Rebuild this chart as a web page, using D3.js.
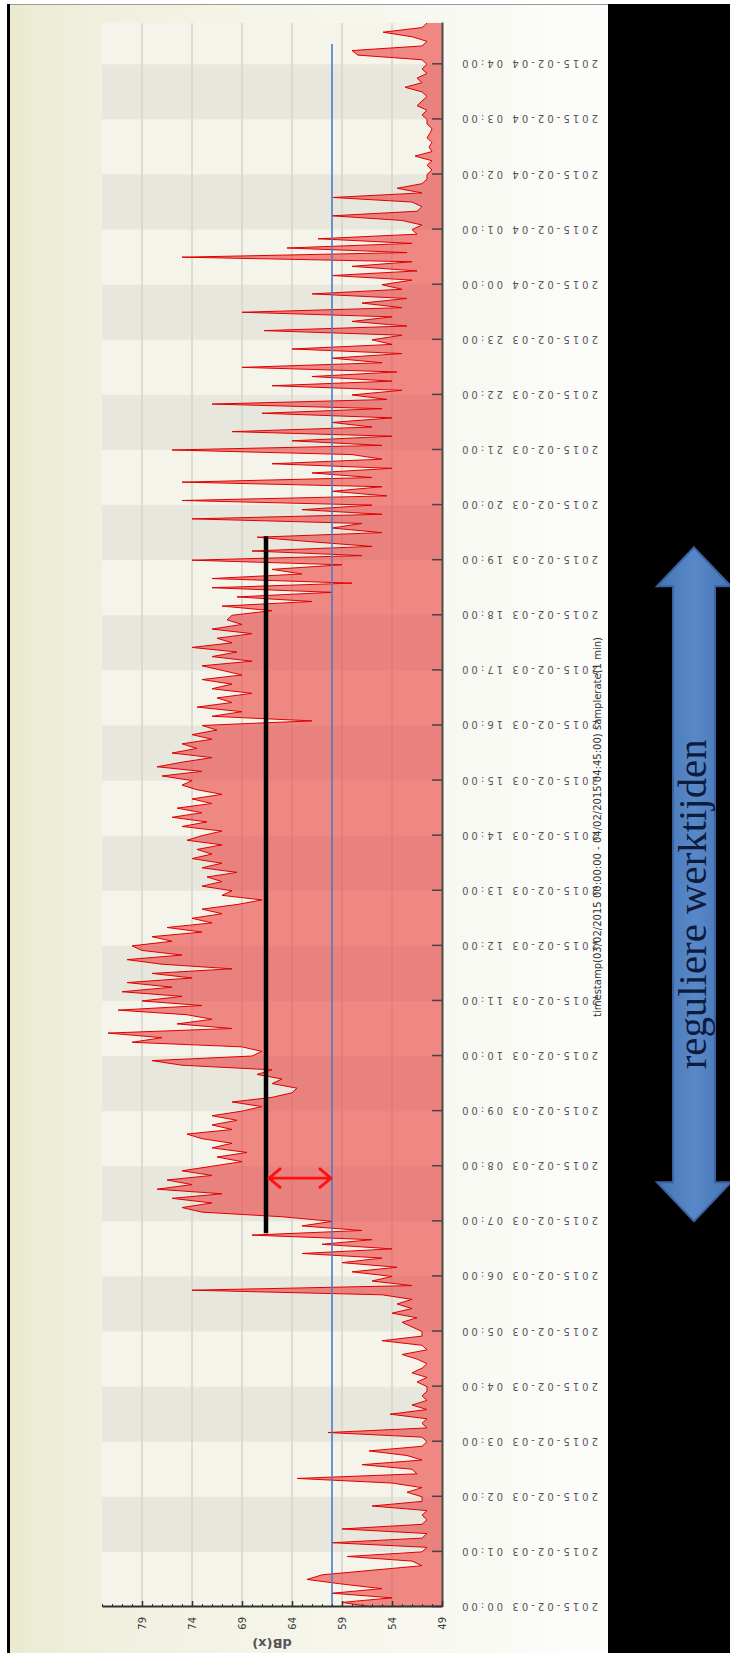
<!DOCTYPE html>
<html>
<head>
<meta charset="utf-8">
<script src="https://cdn.jsdelivr.net/npm/d3@7"></script>
<style>
html, body { margin: 0; padding: 0; background: #fff; }
svg { display: block; }
</style>
</head>
<body>
<div id="chart"></div>
<script>
// sound level dB(x), one value every 5 minutes
var night1 = [
  56, 59, 54, 60, 55, 59, 62.5, 61, 56, 51, 52, 58.5,
  51, 50.5, 60, 51, 50.5, 59, 51, 50.5, 51, 50.5, 56, 51,
  51, 52.5, 51, 54, 63.5, 51.5, 52, 57, 51, 52.5, 56.3, 51,
  50.5, 51, 60.4, 50.5, 51, 50.5, 54.2, 50.5, 52, 50.5, 51, 50.5,
  50.5, 51.5, 50.5, 52, 51, 50.5, 51.5, 53, 50.5, 51, 55, 51,
  51, 52, 53, 51.5, 54, 52, 53.5, 52, 55, 74, 52, 56
];
var morning = [
  54, 58, 53.5, 59, 55, 63, 54, 61, 56, 68, 57, 63,
  60, 65, 73, 75, 72, 76, 71, 77.5, 74, 76.5, 72, 75,
  72, 69, 71.5, 68.5, 72, 70, 73, 74.5, 70, 72, 69.5, 72,
  69, 67, 70, 66, 64, 63.5, 66, 65, 67.5, 66, 75, 78,
  68, 67, 69, 80, 77, 82.4, 70, 75.5, 72, 74.5, 81.4, 73,
  79, 75, 81, 76, 80.5, 74, 78, 70, 77, 80.5, 75, 79
];
var afternoon = [
  80, 76, 78, 73, 76.5, 72, 74, 71, 73, 69.5, 67, 71,
  70, 73, 71, 72.5, 69.5, 73, 71, 74, 72, 73.5, 71, 74.5,
  73, 71, 75, 72.5, 76, 73, 75.5, 72, 74, 71, 73.5, 75,
  74, 77, 73, 77.5, 75, 72, 76, 73.5, 75, 72, 74, 71.5,
  73, 62, 72, 69, 73.5, 70, 71.5, 68, 72, 70, 73, 69,
  71, 73, 68, 72, 69.5, 74, 70, 71.5, 68, 72, 69, 70.5
];
var evening = [
  70, 66, 71, 62, 69.5, 60, 72, 58, 72, 63, 66, 59,
  74, 57, 68, 56, 62, 67.5, 55, 60, 57, 74, 55, 63,
  56, 75, 54.5, 60, 55, 75, 56, 62, 54, 66, 55, 58,
  76, 55, 64, 54, 70, 56, 60, 54, 67, 55, 72, 54.5,
  58, 53, 66, 54, 62, 53.5, 69, 55, 60, 53, 64, 54,
  56, 53, 66.8, 52.5, 58, 54, 69, 53, 57, 52.5, 62, 53
];
var night2 = [
  55, 52, 60, 51.5, 58, 52, 75, 52.5, 64.5, 52, 61.4, 51.5,
  52, 51, 53, 60, 51.5, 51, 52, 59.9, 51, 53.5, 51, 50.5,
  50.5, 50, 50.5, 50, 51.7, 50, 50.3, 50, 50.5, 50.2, 50, 50.5,
  50.5, 51, 50.5, 51.5, 51, 50.5, 51, 52.7, 51, 51.5, 50.5, 51,
  50.5, 51, 57.4, 58, 51, 50.5, 52, 54.9, 51, 50.5
];

var startTime = new Date(2015, 1, 3, 0, 0);
var endTime = new Date(2015, 1, 4, 4, 45);
var stepMinutes = 5;
var dbDomain = [49, 83];
var dbTicks = [49, 54, 59, 64, 69, 74, 79];
var thresholdDb = 60;
var thresholdEnd = new Date(2015, 1, 4, 4, 22);
var workLevelDb = 66.6;
var workLevelSpan = [new Date(2015, 1, 3, 6, 47), new Date(2015, 1, 3, 19, 26)];
var gapArrowTime = new Date(2015, 1, 3, 7, 47);
var workHours = [new Date(2015, 1, 3, 7, 0), new Date(2015, 1, 3, 19, 14)];
var workLabel = "reguliere werktijden";
var yTitle = "dB(x)";
var footer = "timestamp(03/02/2015 00:00:00 - 04/02/2015 04:45:00) samplerate(1 min)";

var width = 730;
var height = 1653;
var rot = 1630; // the chart is drawn lying down and turned a quarter left

var levels = night1.concat(morning, afternoon, evening, night2);
var series = levels.map(function(v, i) {
  return { t: d3.timeMinute.offset(startTime, i * stepMinutes), v: v };
});

var svg = d3.select("#chart").append("svg")
  .attr("width", width)
  .attr("height", height);

var defs = svg.append("defs");
var bg = defs.append("linearGradient").attr("id", "bg")
  .attr("x1", "0%").attr("x2", "100%").attr("y1", "0%").attr("y2", "0%");
bg.append("stop").attr("offset", "0%").attr("stop-color", "#ebead0");
bg.append("stop").attr("offset", "16%").attr("stop-color", "#f1f0df");
bg.append("stop").attr("offset", "70%").attr("stop-color", "#f8f8f1");
bg.append("stop").attr("offset", "100%").attr("stop-color", "#fdfdfb");

var arrowGrad = defs.append("linearGradient").attr("id", "arrowGrad")
  .attr("x1", "0%").attr("x2", "100%").attr("y1", "0%").attr("y2", "0%");
arrowGrad.append("stop").attr("offset", "0%").attr("stop-color", "#4675b4");
arrowGrad.append("stop").attr("offset", "50%").attr("stop-color", "#5888c8");
arrowGrad.append("stop").attr("offset", "100%").attr("stop-color", "#4675b4");

svg.append("rect").attr("x", 8).attr("y", 4).attr("width", 600).attr("height", height - 4)
  .attr("fill", "url(#bg)");
svg.append("rect").attr("x", 608).attr("y", 4).attr("width", width - 608).attr("height", height - 4)
  .attr("fill", "#000");
svg.append("line").attr("x1", 8).attr("x2", 608).attr("y1", 4.5).attr("y2", 4.5)
  .attr("stroke", "#9a9a9a").attr("stroke-width", 1);
svg.append("rect").attr("x", 7).attr("y", 4).attr("width", 3).attr("height", height - 4)
  .attr("fill", "#000");

var g = svg.append("g").attr("transform", "translate(0," + rot + ") rotate(-90)");

var x = d3.scaleTime().domain([startTime, endTime]).range([23, 1607]);
var y = d3.scaleLinear().domain(dbDomain).range([442, 102]);

g.append("rect")
  .attr("x", x.range()[0]).attr("y", y(dbDomain[1]))
  .attr("width", x.range()[1] - x.range()[0])
  .attr("height", y(dbDomain[0]) - y(dbDomain[1]))
  .attr("fill", "#f5f4ea");

var bandHours = d3.timeHour.range(startTime, endTime).filter(function(d, i) {
  return i % 2 === 1;
});
g.selectAll(".band").data(bandHours).enter().append("rect")
  .attr("class", "band")
  .attr("x", function(d) { return x(d); })
  .attr("y", y(dbDomain[1]))
  .attr("width", function(d) { return x(d3.timeHour.offset(d, 1)) - x(d); })
  .attr("height", y(dbDomain[0]) - y(dbDomain[1]))
  .attr("fill", "#e7e7dd");

g.selectAll(".grid").data(dbTicks.slice(1)).enter().append("line")
  .attr("class", "grid")
  .attr("x1", x.range()[0]).attr("x2", x.range()[1])
  .attr("y1", function(d) { return y(d); })
  .attr("y2", function(d) { return y(d); })
  .attr("stroke", "#d5d5cc").attr("stroke-width", 1.5);

var area = d3.area()
  .x(function(d) { return x(d.t); })
  .y0(y(dbDomain[0]))
  .y1(function(d) { return y(d.v); });
var line = d3.line()
  .x(function(d) { return x(d.t); })
  .y(function(d) { return y(d.v); });

g.append("path").datum(series)
  .attr("d", area)
  .attr("fill", "#ea3838").attr("fill-opacity", 0.58);
g.append("path").datum(series)
  .attr("d", line)
  .attr("fill", "none").attr("stroke", "#e00000").attr("stroke-width", 1);

// threshold and working-hours level
g.append("line")
  .attr("x1", x(startTime)).attr("x2", x(thresholdEnd))
  .attr("y1", y(thresholdDb)).attr("y2", y(thresholdDb))
  .attr("stroke", "#4a7cc6").attr("stroke-width", 1.6);

g.append("line")
  .attr("x1", x(workLevelSpan[0])).attr("x2", x(workLevelSpan[1]))
  .attr("y1", y(workLevelDb)).attr("y2", y(workLevelDb))
  .attr("stroke", "#000").attr("stroke-width", 4.5);

var ax = x(gapArrowTime);
var yA = y(workLevelDb) + 3;
var yB = y(thresholdDb) - 1;
g.append("path")
  .attr("d", "M" + ax + "," + yA + "L" + ax + "," + yB +
    "M" + (ax - 10) + "," + (yA + 12) + "L" + ax + "," + yA + "L" + (ax + 10) + "," + (yA + 12) +
    "M" + (ax - 10) + "," + (yB - 12) + "L" + ax + "," + yB + "L" + (ax + 10) + "," + (yB - 12))
  .attr("fill", "none").attr("stroke", "#ff1010").attr("stroke-width", 2.8)
  .attr("stroke-linejoin", "miter");

// axes
var xAxis = d3.axisBottom(x)
  .ticks(d3.timeHour.every(1))
  .tickFormat(d3.timeFormat("%Y-%m-%d %H:%M"))
  .tickSizeInner(-10)
  .tickSizeOuter(0);

var xG = g.append("g").attr("transform", "translate(0," + y(dbDomain[0]) + ")").call(xAxis);
xG.select(".domain").attr("stroke", "#4a4a4a").attr("stroke-width", 2);
xG.selectAll(".tick line").attr("stroke", "#444").attr("stroke-width", 1.5);
xG.selectAll(".tick text")
  .attr("transform", "rotate(-90)")
  .attr("text-anchor", "end")
  .attr("x", -20).attr("y", 0).attr("dy", "0.35em")
  .attr("textLength", 136).attr("lengthAdjust", "spacing")
  .attr("font-family", "DejaVu Sans, sans-serif")
  .attr("font-size", 10)
  .attr("fill", "#555");

var minorAxis = d3.axisLeft(y)
  .tickValues(d3.range(dbDomain[0], dbDomain[1] + 1))
  .tickFormat("")
  .tickSizeInner(-3)
  .tickSizeOuter(0);
g.append("g").attr("transform", "translate(" + x.range()[0] + ",0)").call(minorAxis)
  .call(function(s) {
    s.select(".domain").remove();
    s.selectAll(".tick line").attr("stroke", "#333").attr("stroke-width", 1);
  });

var yAxis = d3.axisLeft(y)
  .tickValues(dbTicks)
  .tickSizeInner(-6)
  .tickSizeOuter(0)
  .tickPadding(10);
var yG = g.append("g").attr("transform", "translate(" + x.range()[0] + ",0)").call(yAxis);
yG.select(".domain").attr("stroke", "#333").attr("stroke-width", 2);
yG.selectAll(".tick line").attr("stroke", "#333").attr("stroke-width", 1.5);
yG.selectAll(".tick text")
  .attr("font-family", "DejaVu Sans, sans-serif")
  .attr("font-size", 10)
  .attr("fill", "#3a3a3a");

g.append("text")
  .attr("transform", "translate(-9," + ((y(dbDomain[0]) + y(dbDomain[1])) / 2) + ") rotate(-90)")
  .attr("text-anchor", "middle")
  .attr("font-family", "DejaVu Sans, sans-serif")
  .attr("font-size", 13)
  .attr("font-weight", "bold")
  .attr("fill", "#555")
  .text(yTitle);

g.append("text")
  .attr("x", 803).attr("y", 601)
  .attr("text-anchor", "middle")
  .attr("textLength", 380).attr("lengthAdjust", "spacingAndGlyphs")
  .attr("font-family", "Liberation Sans Narrow, DejaVu Sans Condensed, sans-serif")
  .attr("font-size", 11)
  .attr("fill", "#333")
  .text(footer);

// big arrow in the black margin, spanning the working hours
var yTop = rot - x(workHours[1]);
var yBot = rot - x(workHours[0]);
var cx = 694, headHalf = 37, shaftHalf = 21, headLen = 39;
var pts = [
  [cx, yTop], [cx + headHalf, yTop + headLen], [cx + shaftHalf, yTop + headLen],
  [cx + shaftHalf, yBot - headLen], [cx + headHalf, yBot - headLen], [cx, yBot],
  [cx - headHalf, yBot - headLen], [cx - shaftHalf, yBot - headLen],
  [cx - shaftHalf, yTop + headLen], [cx - headHalf, yTop + headLen]
];
svg.append("path")
  .attr("d", "M" + pts.join("L") + "Z")
  .attr("fill", "url(#arrowGrad)")
  .attr("stroke", "#3b62a0").attr("stroke-width", 2);

svg.append("text")
  .attr("transform", "translate(706," + ((yTop + yBot) / 2 + 20) + ") rotate(-90)")
  .attr("text-anchor", "middle")
  .attr("font-family", "Liberation Serif, Times New Roman, serif")
  .attr("font-size", 40)
  .attr("textLength", 330).attr("lengthAdjust", "spacingAndGlyphs")
  .attr("fill", "#0d1b3d")
  .text(workLabel);
</script>
</body>
</html>
